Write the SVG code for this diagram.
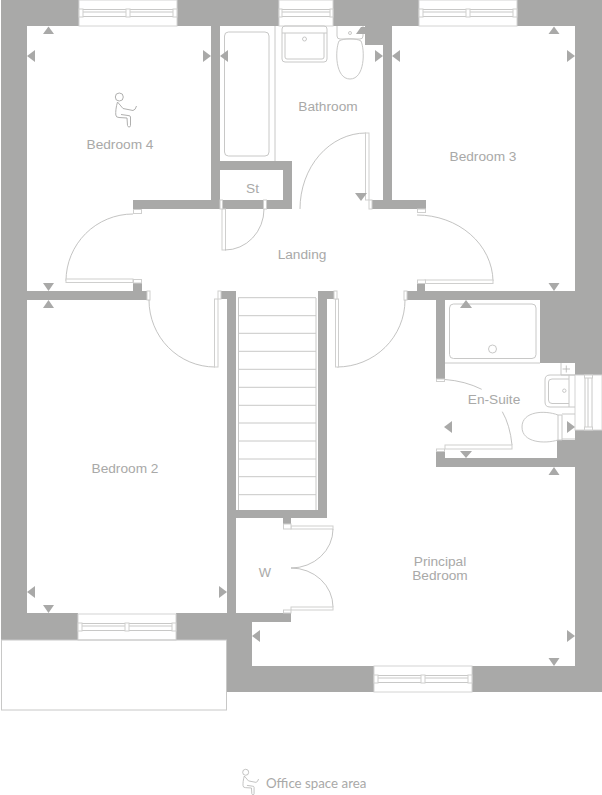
<svg xmlns="http://www.w3.org/2000/svg" xmlns:xlink="http://www.w3.org/1999/xlink" width="602" height="795" viewBox="0 0 602 795">
<style>
.w{fill:#a9a9a8}
.l{fill:none;stroke:#c8c8c7;stroke-width:1}
.t{fill:none;stroke:#b4b4b3;stroke-width:.8}
.p{fill:none;stroke:#b0b0af;stroke-width:1}
.f{fill:#fff;stroke:#cfcfce;stroke-width:1}
.a{fill:#a9a9a8}
text{font-family:"Liberation Sans",Arial,sans-serif;font-size:13.7px;fill:#a9a9a8;text-anchor:middle}
</style>
<defs>
<g id="win98"><rect x="0" y="0" width="98" height="26" fill="#fff" stroke="#d4d4d3"/><path class="l" d="M3,9.500H95M3,16.500H95M3,12H95"/><rect class="f" x="0" y="9" width="4" height="8"/><rect class="f" x="47" y="9" width="4" height="8"/><rect class="f" x="94" y="9" width="4" height="8"/></g>
<g id="person"><circle class="p" cx="119.300" cy="97" r="4"/><path class="p" d="M117.500,102 C116,107 115.500,112 115.800,115 Q116,117.500 119,117.500 L127,118 L127.500,125.500 Q128,127 129,127 Q130.500,127 130.500,125.500 L130.500,117 Q130.500,115.500 128,115.500 L121,114.500 M117.500,102 L123,108.500 L133,110.500 Q135.500,110 136.500,106"/></g>
</defs>
<g id="walls">
<path class="w" d="M1,0H79V26H27V291H133V283H142V291H147V300H27V613H78V640H1Z"/>
<path class="w" d="M176,0H279V26H220V200H266V209H220V200H211V26H176Z"/>
<path class="w" d="M333,0H419V26H392V200H426V212H417V209H372V200H383V45H365V26H333Z"/>
<path class="w" d="M516,0H602V363H540V300H407V291H417V283H425V291H575V26H516Z"/>
<path class="w" d="M133,200H220V209H142V213H133Z"/>
<path class="w" d="M211,161H292V209H266V200H283V170H211Z"/>
<path class="w" d="M575,363H602V375H575Z"/>
<path class="w" d="M436,300H445V379H436Z"/>
<path class="w" d="M575,430H602V692H472V666H575V467H436V449H445V458H557V440H575Z"/>
<path class="w" d="M227,692V640H176V613H227V518H236V613H291V622H252V666H374V692Z"/>
<path class="w" d="M221,291H236V510H318V291H334V299H327V518H291V524H283V518H227V299H221Z"/>
</g>
<g id="windows">
<use xlink:href="#win98" href="#win98" x="79" y="0"/>
<use xlink:href="#win98" href="#win98" x="419" y="0"/>
<use xlink:href="#win98" href="#win98" x="78" y="614"/>
<use xlink:href="#win98" href="#win98" x="374" y="666"/>
<g id="window-bath"><rect x="279" y="0" width="54" height="26" fill="#fff" stroke="#d4d4d3"/><path class="l" d="M282,9.500H330M282,16.500H330M282,12H330"/><rect class="f" x="279" y="9" width="3" height="8"/><rect class="f" x="330" y="9" width="3" height="8"/></g>
<g id="window-ensuite"><rect x="575" y="375" width="27" height="55" fill="#fff" stroke="#d4d4d3"/><path class="l" d="M585,378V427M592,378V427M588,378V427"/><rect class="f" x="584.500" y="375" width="8" height="3"/><rect class="f" x="584.500" y="427" width="8" height="3"/></g>
</g>
<g id="doors">
<rect class="f" x="133.500" y="209.500" width="8" height="4"/><path class="t" d="M133,214A67,67 0 0 0 66,281"/><rect class="f" x="66" y="279" width="67" height="3.500"/><rect class="f" x="133.500" y="279.500" width="8" height="3.500"/><rect class="f" x="147" y="291" width="3" height="9"/>
<rect class="f" x="417.500" y="209" width="8" height="3.500"/><path class="t" d="M417,215A76,67 0 0 1 493,281"/><rect class="f" x="425" y="280" width="68" height="3.500"/><rect class="f" x="417.500" y="280" width="8" height="3.500"/><rect class="f" x="404" y="291" width="3" height="9"/>
<path class="t" d="M149,300A66,67 0 0 0 215,367"/><rect class="f" x="214.500" y="299" width="3.500" height="68"/><rect class="f" x="218" y="291" width="3" height="8"/>
<path class="t" d="M405,300A68,67 0 0 1 337,367"/><rect class="f" x="335.500" y="299" width="3" height="68"/><rect class="f" x="334" y="291" width="3" height="8"/>
<path class="t" d="M300,209A66,76 0 0 1 366,133"/><rect class="f" x="365.500" y="133" width="3.500" height="67"/><rect class="f" x="369" y="200" width="3" height="9"/>
<rect class="f" x="222" y="209" width="3.500" height="41"/><rect class="f" x="220" y="200" width="2.500" height="9"/><path class="t" d="M225,250A39,41 0 0 0 264,209"/><rect class="f" x="263.500" y="200" width="3" height="9"/>
<path class="t" d="M445,379.500Q465,381 481.700,389.300M502.300,411.700Q510,425 512,445"/><rect class="f" x="445" y="445" width="67" height="4"/><rect class="f" x="436.500" y="379" width="8" height="2.500"/><rect class="f" x="436.500" y="449" width="8" height="2.500"/>
<rect class="f" x="291" y="526" width="42" height="3"/><rect class="f" x="283.500" y="524" width="7.500" height="5"/><path class="t" d="M333,529A42,39 0 0 1 291,568A42,39 0 0 1 333,607"/><rect class="f" x="291" y="607" width="42" height="3"/><rect class="f" x="283.500" y="610" width="7.500" height="3"/>
</g>
<g id="stairs"><path class="l" d="M238.500,298V510M316,298V510M238,297.700H316M238,315.700H316M238,333.300H316M238,351.300H316M238,369.300H316M238,387.300H316M238,405.300H316M238,423H316M238,441H316M238,459H316M238,476.700H316M238,494.700H316"/></g>
<g id="fixtures">
<path class="l" d="M275,26V161"/>
<rect class="l" x="224.500" y="32" width="44.500" height="124" rx="4"/>
<rect class="l" x="282" y="26" width="45" height="36" rx="3"/><path class="l" d="M282,33H327M285,33V57Q285,59 287,59H322Q324,59 324,57V33"/><circle class="l" cx="304.500" cy="39" r="2"/>
<path class="l" d="M337,26V36Q337,39 340,39H360Q363,39 363,36V26"/><circle class="l" cx="350" cy="33" r="1.500"/><path class="l" d="M339,41C335,50 335,79 350,79C365,79 365,50 361,41C356,38 344,38 339,41Z"/>
<rect class="l" x="449.500" y="304" width="86.500" height="54.500" rx="4"/><circle class="l" cx="492.500" cy="349" r="4"/><path class="l" d="M445,363H540"/>
<path class="l" d="M561,363V375M561,375H575"/><path class="t" d="M562.500,369H570M566.300,365.500V372.500"/>
<path class="l" d="M575,375H550Q545,375 545,380V402Q545,407 550,407H575M569,375V407M569,379H552Q548.500,379 548.500,382V400Q548.500,403.500 552,403.500H569"/><circle class="l" cx="564.300" cy="390.700" r="1.700"/>
<path class="l" d="M558,415C545,410 522,411 522,427C522,443 545,444 558,440ZM558,415H562V440H558M562,414H575M562,439H575"/>
</g>
<g id="arrows" class="a">
<path d="M48.500,26.500L54,34H43Z"/><path d="M27,56L35,50V62Z"/><path d="M211,56L203,50V62Z"/><path d="M220,56L228,50V62Z"/><path d="M48.500,291L43,283H54Z"/><path d="M48.500,300L43,308H54Z"/>
<path d="M383,56L375,50V62Z"/><path d="M392,56L400,50V62Z"/><path d="M554,26.500L548.500,34H559.500Z"/><path d="M575,56L567,50V62Z"/><path d="M554,291L548.500,283H559.500Z"/><path d="M361,201L355,193H367Z"/><path d="M361,27L356,34H365V27Z"/>
<path d="M466,300L460,308H472Z"/><path d="M444,427L452,421V433Z"/><path d="M575,427L567,421V433Z"/><path d="M466,458L460,451H472Z"/><path d="M554,467L548.500,475H559.500Z"/>
<path d="M27,592L35,586V598Z"/><path d="M48.500,613L43,605H54Z"/><path d="M227,592L219,586V598Z"/><path d="M252,636L260,630V642Z"/><path d="M575,636L567,630V642Z"/><path d="M554,666L548.500,658H559.500Z"/>
</g>
<g id="bedroom-4"><use xlink:href="#person" href="#person"/><text x="120" y="149">Bedroom 4</text></g>
<g id="bedroom-3"><text x="483" y="161">Bedroom 3</text></g>
<g id="bedroom-2"><text x="125" y="473">Bedroom 2</text></g>
<g id="bathroom"><text x="328" y="111">Bathroom</text></g>
<g id="st"><text x="252.500" y="193">St</text></g>
<g id="landing"><text x="302" y="259">Landing</text></g>
<g id="en-suite"><text x="494" y="404">En-Suite</text></g>
<g id="w"><text x="265" y="577" style="font-size:13px">W</text></g>
<g id="principal"><text x="440" y="566">Principal</text><text x="440" y="580">Bedroom</text></g>
<rect id="garage" class="l" x="1.500" y="640" width="225" height="70"/>
<g id="legend"><use xlink:href="#person" href="#person" transform="translate(156.200 699.500) scale(.75)"/><text x="266" y="787.500" style="font-family:'Lato',sans-serif;font-size:13.300px;text-anchor:start">Office space area</text></g>
</svg>
